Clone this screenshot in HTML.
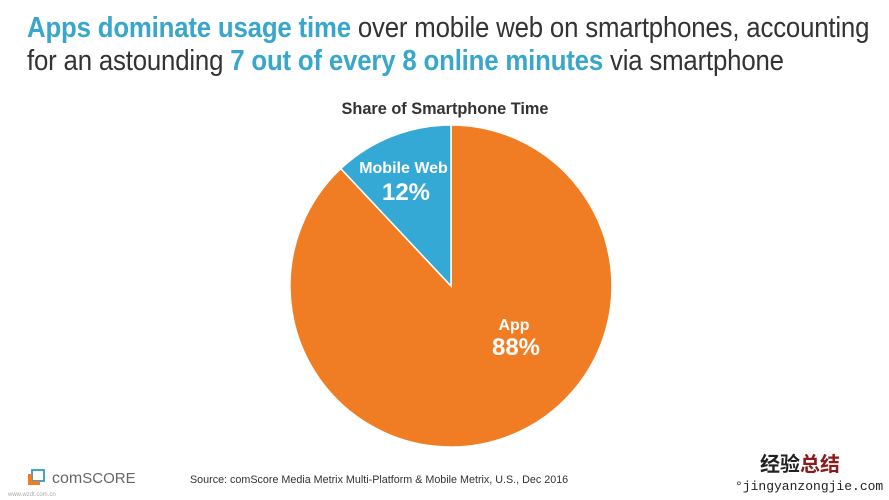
<!DOCTYPE html>
<html><head><meta charset="utf-8"><style>
html,body{margin:0;padding:0;background:#fff;}
body{width:889px;height:500px;position:relative;overflow:hidden;font-family:"Liberation Sans",Arial,sans-serif;}
.t{position:absolute;left:27px;font-size:28.5px;color:#333;white-space:nowrap;line-height:36px;letter-spacing:-0.2px;transform:scaleX(0.905);transform-origin:0 0;}
.b{color:#39A6CB;font-weight:bold;}
svg{position:absolute;left:0;top:0;}
</style></head><body>
<div class="t" style="top:10px"><span class="b">Apps dominate usage time</span> over mobile web on smartphones, accounting</div>
<div class="t" style="top:43px">for an astounding <span class="b">7 out of every 8 online minutes</span> via smartphone</div>
<svg width="889" height="500" viewBox="0 0 889 500">
<text x="445" y="114" font-family="Liberation Sans, Arial, sans-serif" font-size="16.3" font-weight="bold" fill="#333" text-anchor="middle">Share of Smartphone Time</text>
<path d="M451,286 L451,125 A161,161 0 1 1 340.8,168.6 Z" fill="#F07D23" stroke="#fff" stroke-width="1.5"/>
<path d="M451,286 L340.8,168.6 A161,161 0 0 1 451,125 Z" fill="#35A9D5" stroke="#fff" stroke-width="1.5"/>
<text x="403.5" y="173" font-family="Liberation Sans, Arial, sans-serif" font-size="16" font-weight="bold" fill="#fff" text-anchor="middle">Mobile Web</text>
<text x="406" y="200" font-family="Liberation Sans, Arial, sans-serif" font-size="24" font-weight="bold" fill="#fff" text-anchor="middle">12%</text>
<text x="514" y="330" font-family="Liberation Sans, Arial, sans-serif" font-size="16" font-weight="bold" fill="#fff" text-anchor="middle">App</text>
<text x="516" y="355" font-family="Liberation Sans, Arial, sans-serif" font-size="24" font-weight="bold" fill="#fff" text-anchor="middle">88%</text>
<!-- comScore logo -->
<rect x="32" y="470" width="12" height="11" fill="none" stroke="#2D9CC9" stroke-width="1.8"/>
<path d="M28,474 L28,485 L40,485 L40,481 L32,481 L32,474 Z" fill="#F07D23"/>
<text x="52" y="483" font-family="Liberation Sans, Arial, sans-serif" font-size="16" fill="#666">com<tspan font-size="15">SCORE</tspan></text>
<text x="8" y="496" font-family="Liberation Sans, Arial, sans-serif" font-size="6" fill="#aaa">www.wzdt.com.cn</text>
<text x="190" y="483" font-family="Liberation Sans, Arial, sans-serif" font-size="10.75" fill="#333">Source: comScore Media Metrix Multi-Platform &amp; Mobile Metrix, U.S., Dec 2016</text>
<text x="760" y="471" font-family="Liberation Sans, Noto Sans CJK SC, sans-serif" font-size="20" font-weight="bold" fill="#222">经验<tspan fill="#8B1A1A">总结</tspan></text>
<text x="735" y="490" font-family="Liberation Mono, DejaVu Sans Mono, monospace" font-size="13" fill="#222">°jingyanzongjie.com</text>
</svg>
</body></html>
